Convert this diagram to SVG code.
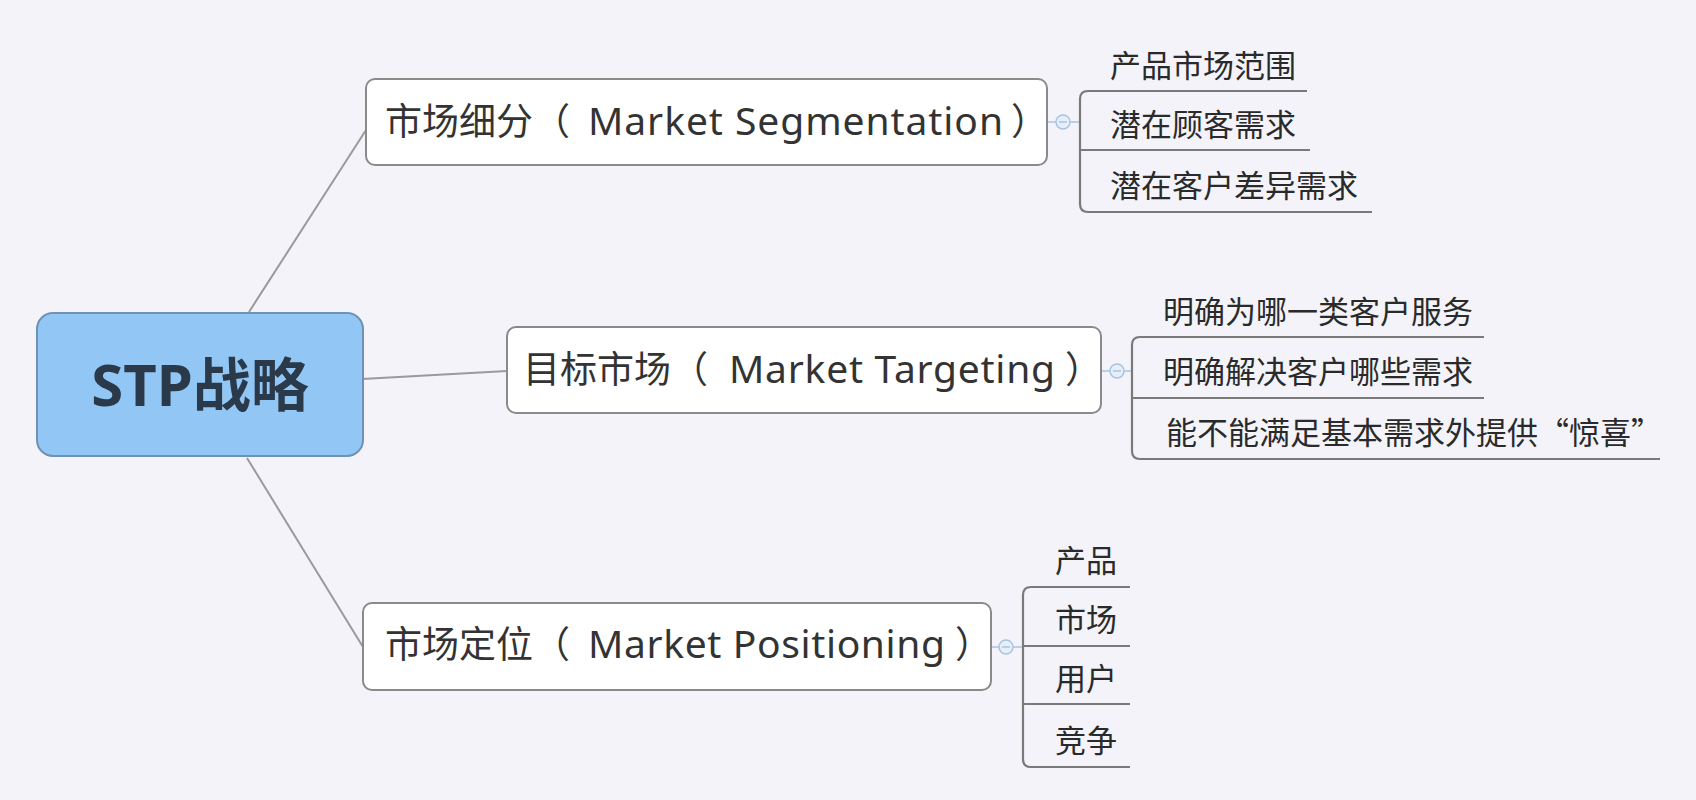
<svg xmlns="http://www.w3.org/2000/svg" width="1696" height="800" viewBox="0 0 1696 800">
<style>
.bg{fill:#f3f3f9}
.node{fill:#ffffff;stroke:#8a8a8a;stroke-width:2}
.root{fill:#92c7f5;stroke:#6e92b4;stroke-width:2}
.t{font-family:"Noto Sans","Noto Sans CJK SC",sans-serif;font-size:37px;fill:#333}
.lat{font-size:39px}
.rt{font-family:"Noto Sans","Noto Sans CJK SC",sans-serif;font-size:58px;font-weight:bold;fill:#2b3a4a}
.c{font-family:"Noto Sans CJK SC","Noto Sans",sans-serif;font-size:31px;fill:#2a2a2a}
.link{fill:none;stroke:#9a9a9a;stroke-width:2}
.br{fill:none;stroke:#7a7a7a;stroke-width:2.2}
.tog{fill:#e6eef8;stroke:#a9c4e2;stroke-width:1.5}
.togl{stroke:#a9c4e2;stroke-width:1.5}
</style>
<rect class="bg" x="0" y="0" width="1696" height="800"/>
<g id="connectors">
<line class="link" x1="249" y1="312" x2="366" y2="130"/>
<line class="link" x1="362" y1="379" x2="507" y2="371"/>
<line class="link" x1="247" y1="458" x2="363" y2="647"/>
<line class="togl" x1="1047" y1="122" x2="1080" y2="122"/>
<line class="togl" x1="1101" y1="371" x2="1132" y2="371"/>
<line class="togl" x1="991" y1="647" x2="1023" y2="647"/>
<path class="br" d="M1307 91 H1088 Q1080 91 1080 99 V204 Q1080 212 1088 212 H1372 M1080 150 H1310"/>
<path class="br" d="M1484 337 H1140 Q1132 337 1132 345 V451 Q1132 459 1140 459 H1660 M1132 398 H1484"/>
<path class="br" d="M1130 587 H1031 Q1023 587 1023 595 V759 Q1023 767 1031 767 H1130 M1023 646 H1130 M1023 704 H1130"/>
<circle class="tog" cx="1063" cy="122" r="7"/><line class="togl" x1="1059" y1="122" x2="1067" y2="122"/>
<circle class="tog" cx="1117" cy="371" r="7"/><line class="togl" x1="1113" y1="371" x2="1121" y2="371"/>
<circle class="tog" cx="1006" cy="647" r="7"/><line class="togl" x1="1002" y1="647" x2="1010" y2="647"/>
</g>
<g id="root">
<rect class="root" x="37" y="313" width="326" height="143" rx="16"/>
<text class="rt" x="200" y="406" text-anchor="middle">STP战略</text>
</g>
<g id="seg">
<rect class="node" x="366" y="79" width="681" height="86" rx="9"/>
<text class="t" y="135"><tspan x="385">市场细分（</tspan><tspan class="lat" x="588" textLength="415" lengthAdjust="spacing">Market Segmentation</tspan><tspan x="1011">）</tspan></text>
</g>
<g id="tgt">
<rect class="node" x="507" y="327" width="594" height="86" rx="9"/>
<text class="t" y="383"><tspan x="523">目标市场（</tspan><tspan class="lat" x="729" textLength="326" lengthAdjust="spacing">Market Targeting</tspan><tspan x="1065">）</tspan></text>
</g>
<g id="pos">
<rect class="node" x="363" y="603" width="628" height="87" rx="9"/>
<text class="t" y="658"><tspan x="385">市场定位（</tspan><tspan class="lat" x="588" textLength="357" lengthAdjust="spacing">Market Positioning</tspan><tspan x="955">）</tspan></text>
</g>
<g id="seg-children">
<text class="c" x="1110" y="77">产品市场范围</text>
<text class="c" x="1110" y="136">潜在顾客需求</text>
<text class="c" x="1110" y="197">潜在客户差异需求</text>
</g>
<g id="tgt-children">
<text class="c" x="1163" y="323">明确为哪一类客户服务</text>
<text class="c" x="1163" y="383">明确解决客户哪些需求</text>
<text class="c" x="1166" y="444">能不能满足基本需求外提供“惊喜”</text>
</g>
<g id="pos-children">
<text class="c" x="1055" y="572">产品</text>
<text class="c" x="1055" y="631">市场</text>
<text class="c" x="1055" y="690">用户</text>
<text class="c" x="1055" y="752">竞争</text>
</g>
</svg>
